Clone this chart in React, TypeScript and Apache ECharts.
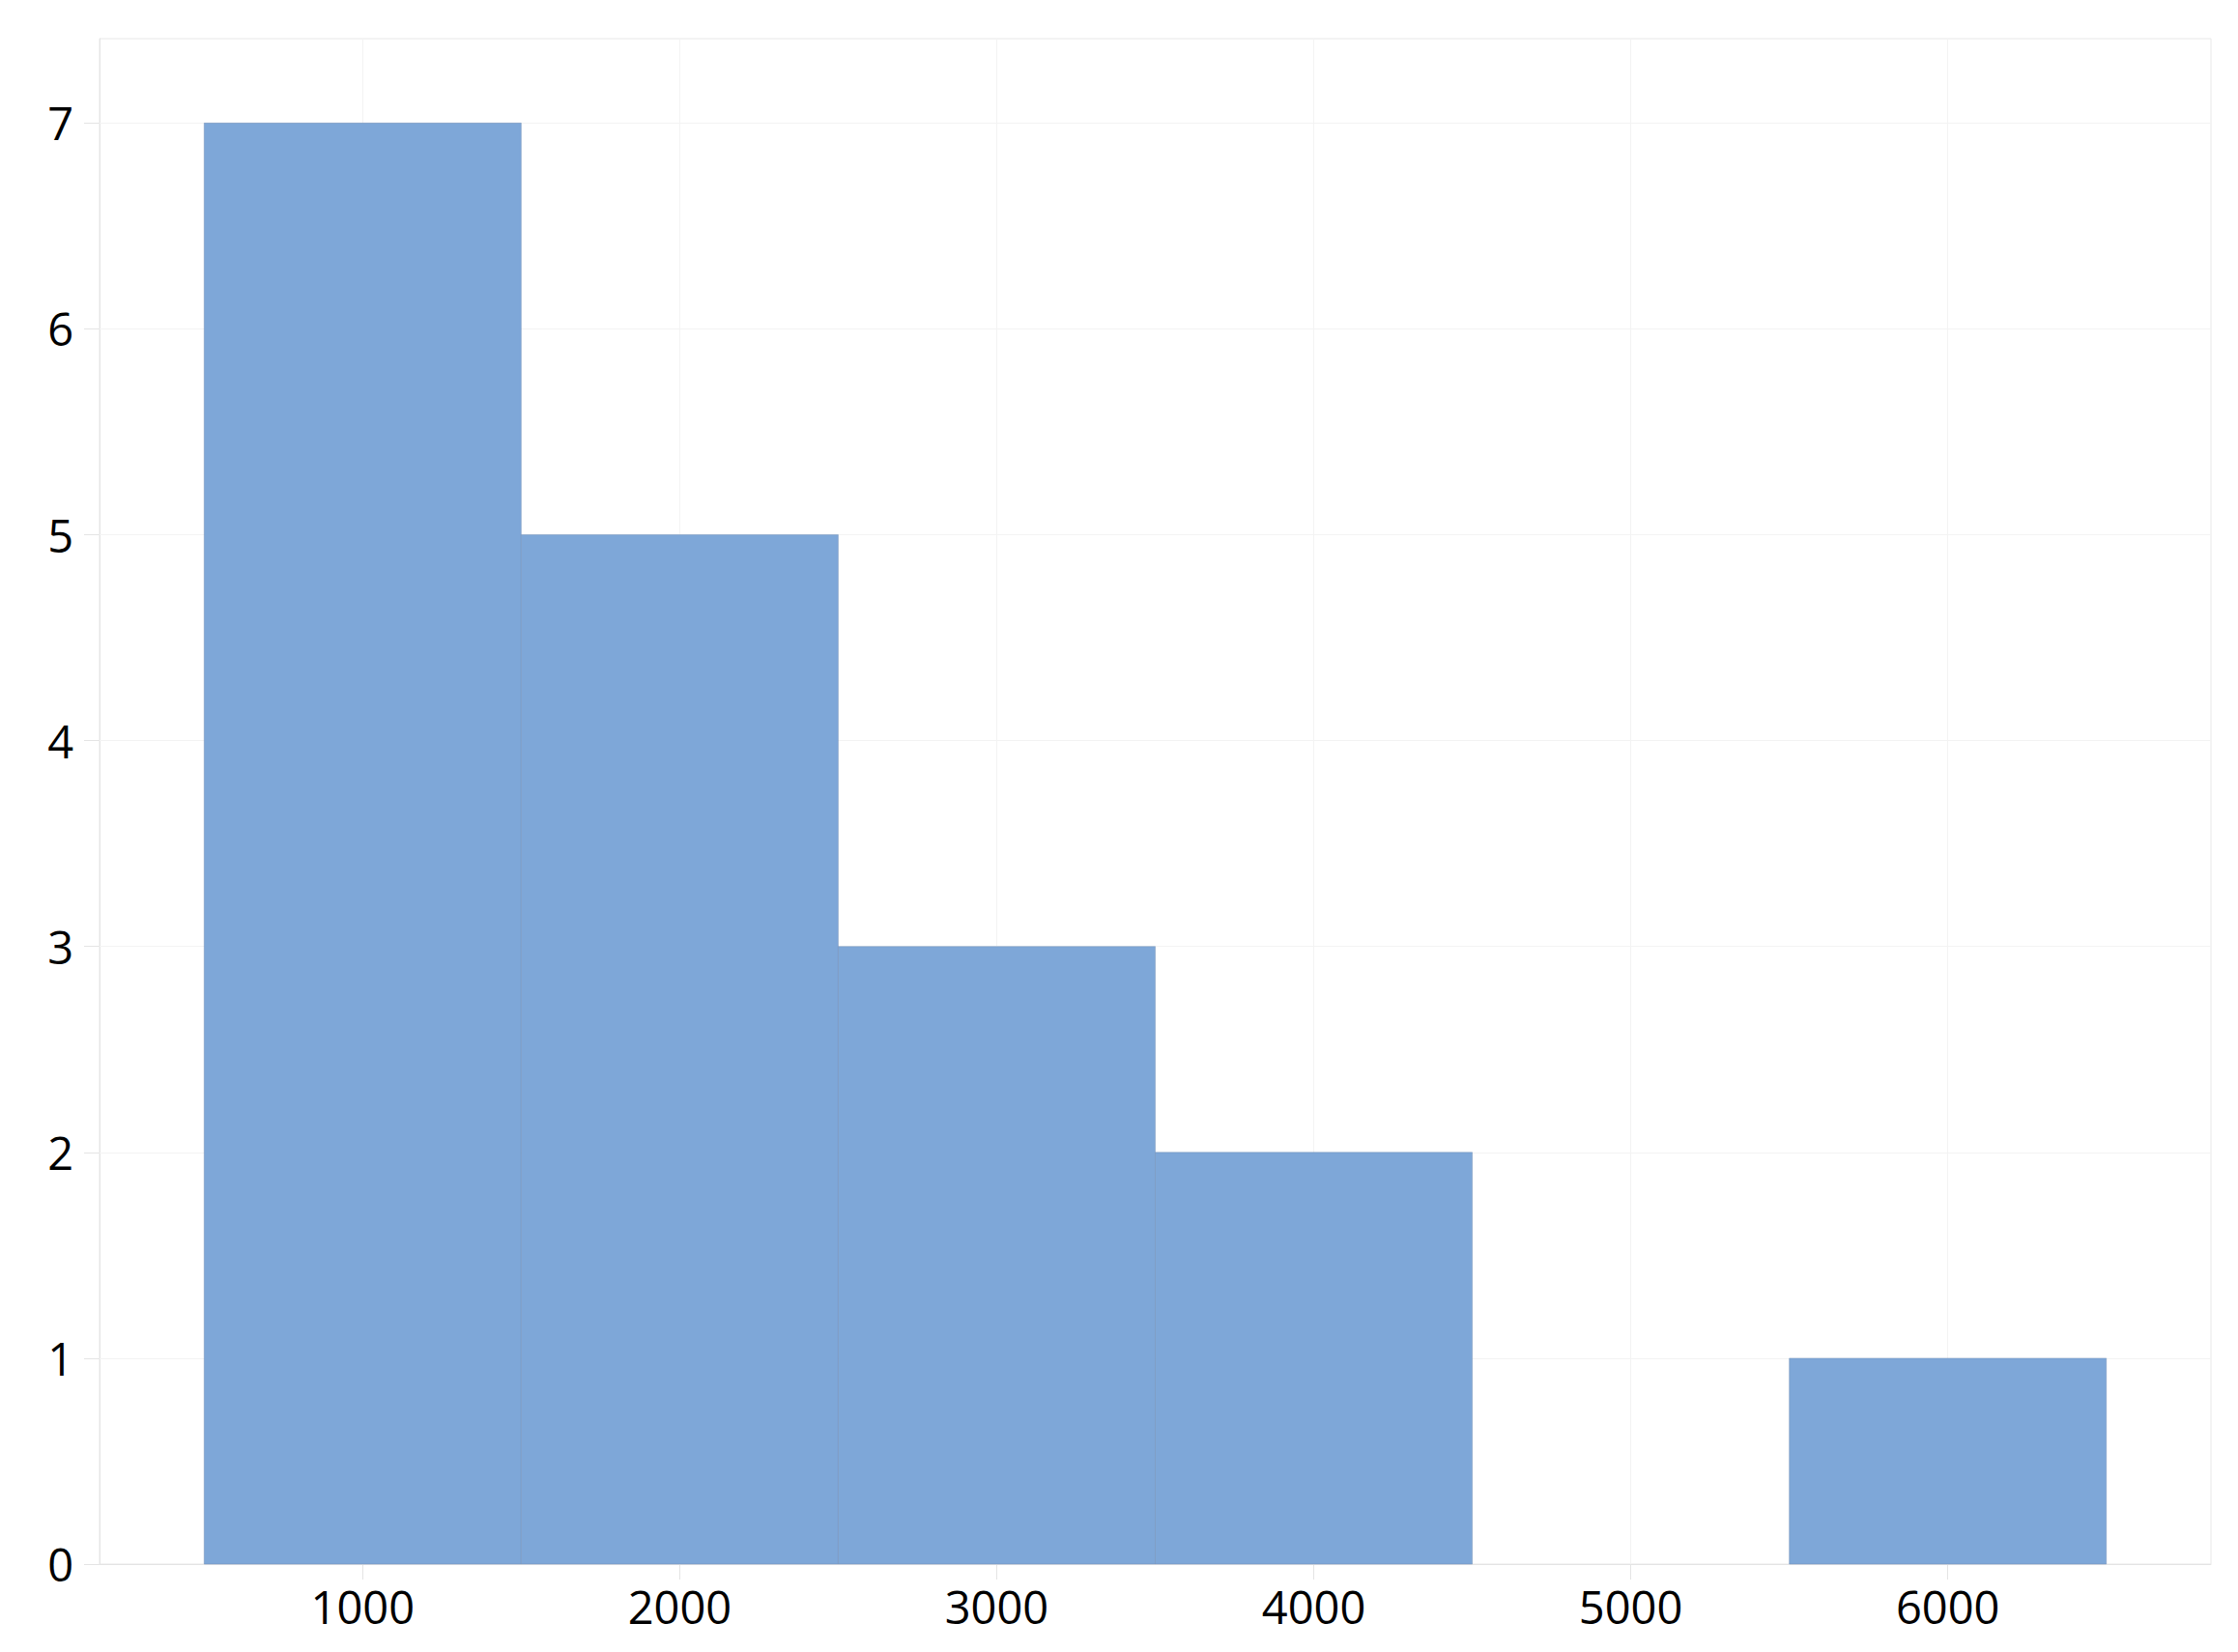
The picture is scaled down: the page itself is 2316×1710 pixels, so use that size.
import React, { useEffect, useRef } from "react";
import * as echarts from "echarts";

const binStarts = [500, 1500, 2500, 3500, 4500, 5500];
const binWidth = 1000;
const counts = [7, 5, 3, 2, 0, 1];
const xTicks = [1000, 2000, 3000, 4000, 5000, 6000];
const yTicks = [0, 1, 2, 3, 4, 5, 6, 7];
const xMin = 170;
const xMax = 6830;
const yMax = 7.41;

export default function App() {
  const ref = useRef<HTMLDivElement>(null);
  useEffect(() => {
    if (!ref.current) return;
    const chart = echarts.init(ref.current, undefined, { renderer: "svg" });
    const data = binStarts.map((s, i) => [s, s + binWidth, counts[i]]);
    const font = "'Open Sans', 'Noto Sans', sans-serif";
    chart.setOption({
      animation: false,
      backgroundColor: "#ffffff",
      grid: {
        left: 103,
        right: 28,
        top: 40,
        bottom: 91,
        show: true,
        borderColor: "#e8e8e8",
        borderWidth: 1,
        backgroundColor: "transparent",
      },
      xAxis: {
        type: "value",
        min: xMin,
        max: xMax,
        axisLine: { show: true, lineStyle: { color: "#e4e4e4", width: 1 } },
        axisTick: {
          show: true,
          length: 16,
          customValues: xTicks,
          lineStyle: { color: "#e4e4e4" },
        },
        axisLabel: {
          customValues: xTicks,
          margin: 20,
          fontSize: 47,
          fontWeight: 500,
          fontFamily: font,
          color: "#000",
          formatter: (v: number) => String(v),
        },
        splitLine: { show: false },
      },
      yAxis: {
        type: "value",
        min: 0,
        max: yMax,
        axisLine: { show: true, lineStyle: { color: "#e4e4e4", width: 1 } },
        axisTick: {
          show: true,
          length: 16,
          customValues: yTicks,
          lineStyle: { color: "#e4e4e4" },
        },
        axisLabel: {
          customValues: yTicks,
          margin: 27,
          fontSize: 47,
          fontWeight: 500,
          fontFamily: font,
          color: "#000",
          formatter: (v: number) => String(v),
        },
        splitLine: { show: false },
      },
      series: [
        {
          type: "line",
          data: [],
          z: 1,
          silent: true,
          markLine: {
            z: 1,
            silent: true,
            symbol: ["none", "none"],
            label: { show: false },
            emphasis: { disabled: true },
            lineStyle: { color: "#f3f3f3", width: 1, type: "solid" },
            data: [
              ...xTicks.map((v) => ({ xAxis: v })),
              ...yTicks.filter((v) => v > 0).map((v) => ({ yAxis: v })),
            ],
          },
        },
        {
          type: "custom",
          z: 3,
          data,
          encode: { x: [0, 1], y: 2 },
          renderItem: (params: any, api: any) => {
            const x0 = api.value(0);
            const x1 = api.value(1);
            const y = api.value(2);
            if (!y) return null;
            const p0 = api.coord([x0, y]);
            const p1 = api.coord([x1, 0]);
            return {
              type: "rect",
              shape: { x: p0[0], y: p0[1], width: p1[0] - p0[0], height: p1[1] - p0[1] },
              style: {
                fill: "#7ea7d8",
                stroke: "rgba(110,140,180,0.45)",
                lineWidth: 1,
              },
            };
          },
        },
      ],
    });
    return () => chart.dispose();
  }, []);
  return (
    <div
      ref={ref}
      style={{ position: "fixed", left: 0, top: 0, width: 2316, height: 1710 }}
    />
  );
}
